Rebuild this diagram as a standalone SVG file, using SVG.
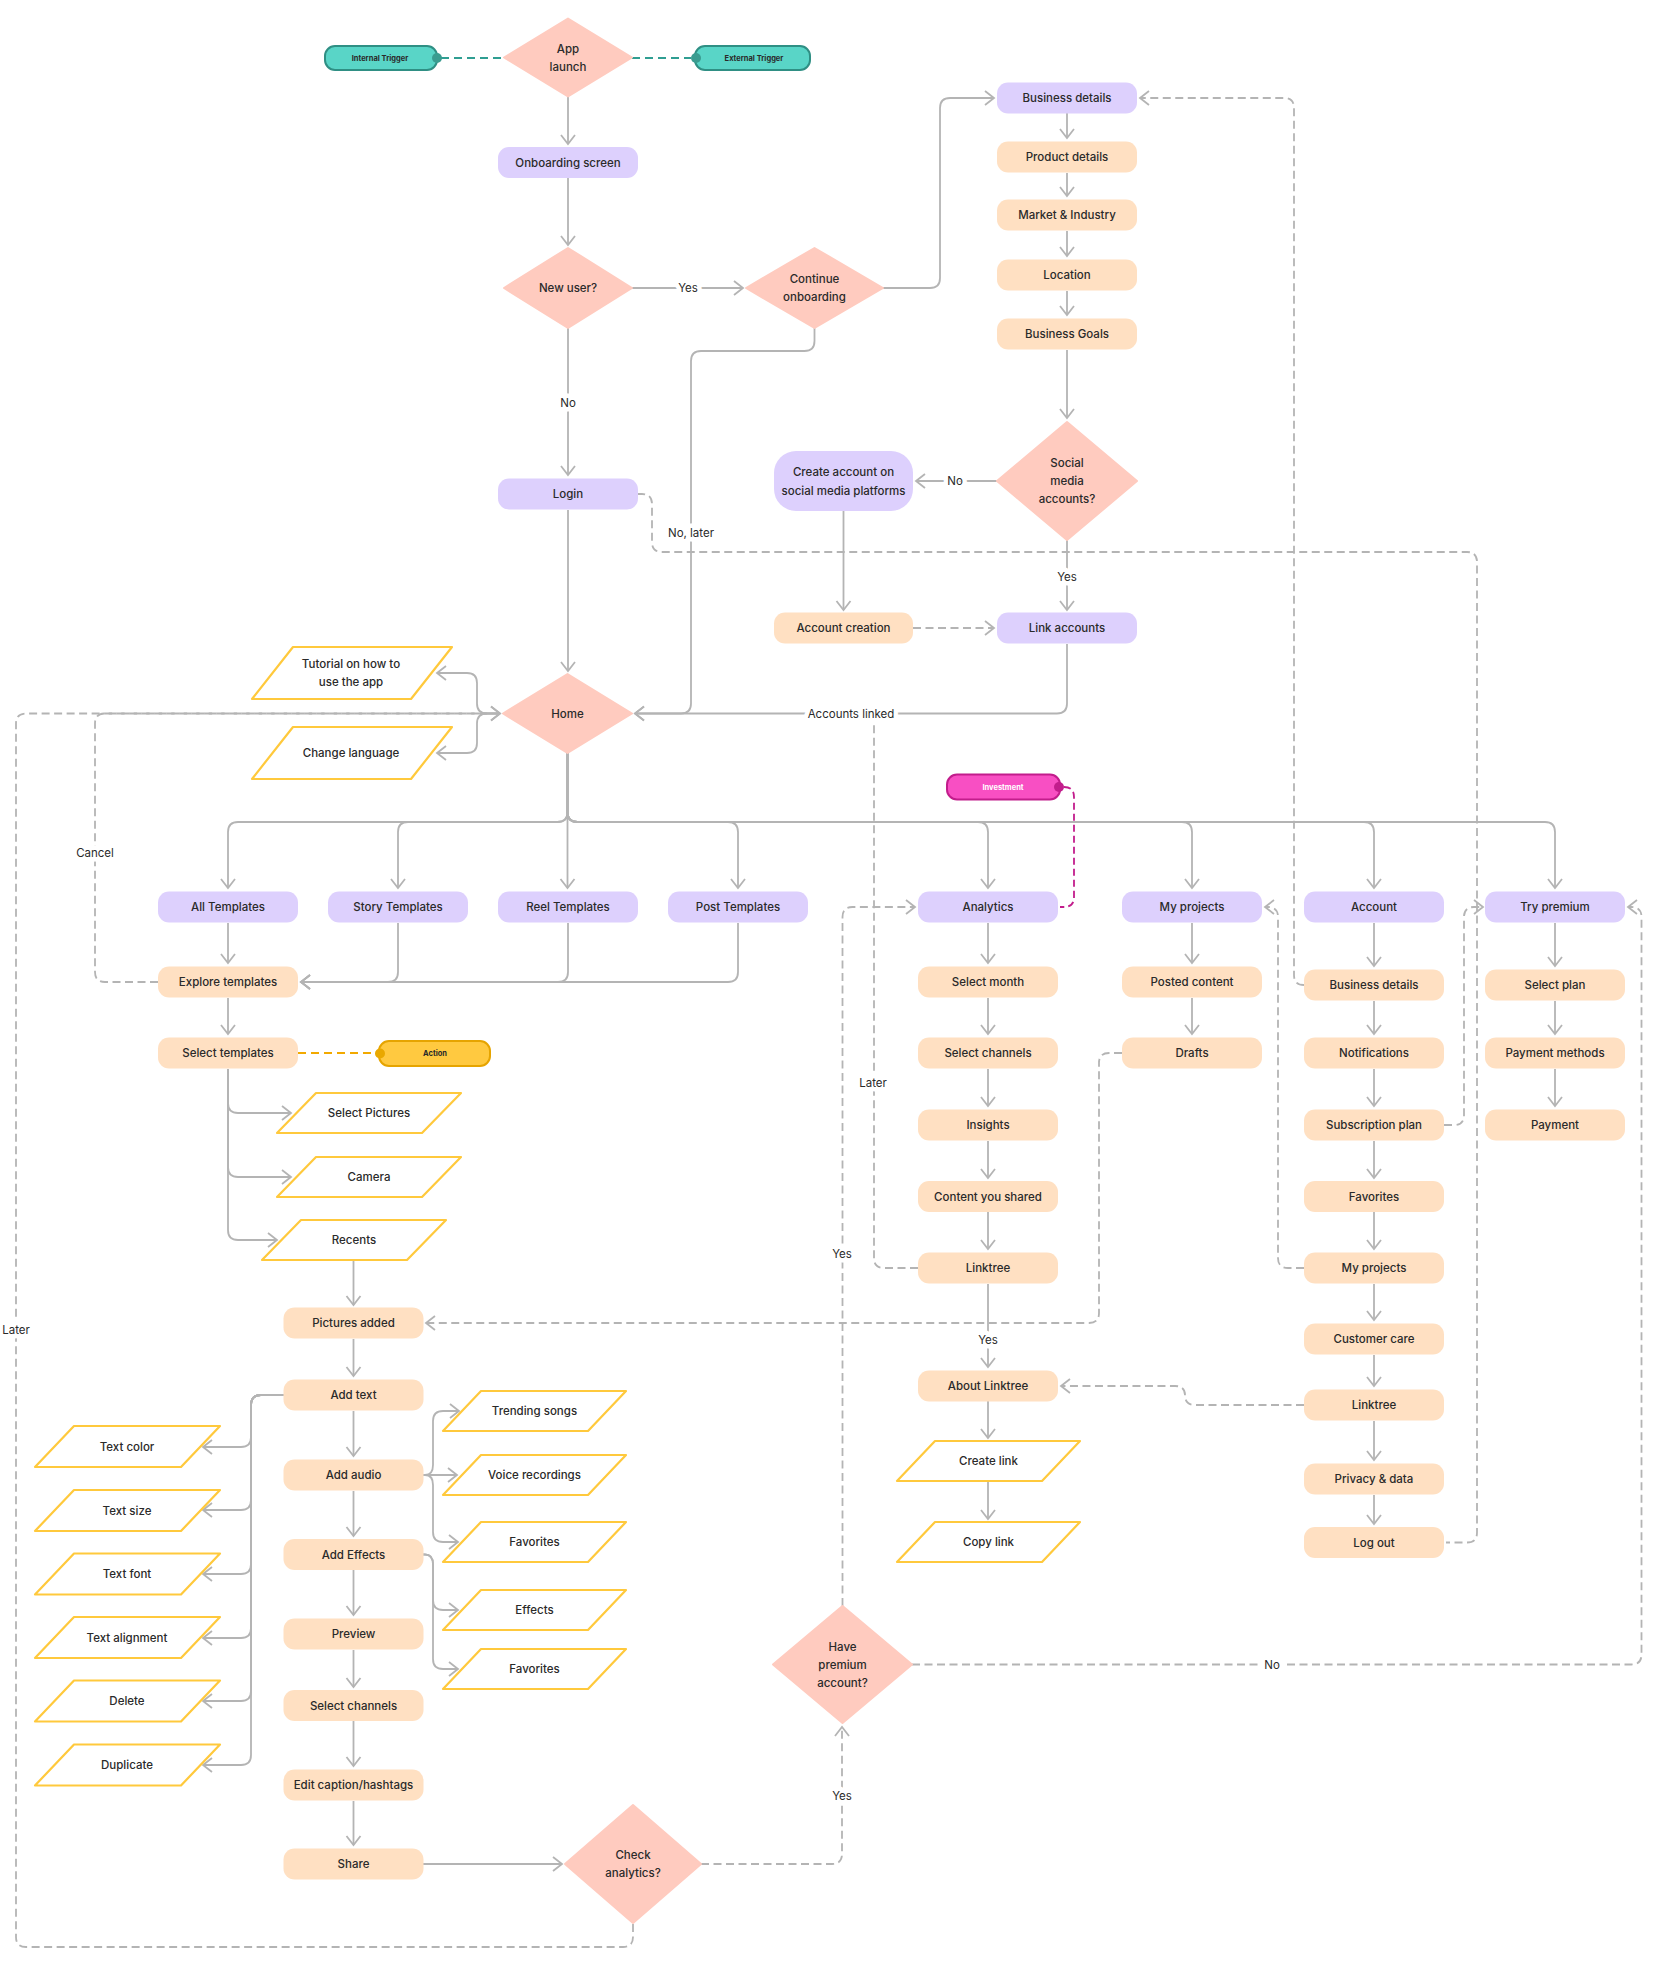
<svg xmlns="http://www.w3.org/2000/svg" width="1676" height="1980" viewBox="0 0 1676 1980">
<defs>
<style>
text{font-family:Inter,"Noto Sans","Liberation Sans",sans-serif;font-size:11.5px;font-weight:500;fill:#2a2a2a;text-anchor:middle;dominant-baseline:central}
.pu{fill:#DDD0FD}
.pe{fill:#FFE0C2}
.di{fill:#FFCBBF;stroke:#FFCBBF;stroke-width:2;stroke-linejoin:round}
.pg{fill:#fff;stroke:#FFC93C;stroke-width:2.2;stroke-linejoin:round}
.c{fill:none;stroke:#B4B4B4;stroke-width:1.8}
.d{stroke-dasharray:8 4.5}
.ar{marker-end:url(#a)}
.lb{font-weight:400;paint-order:stroke;stroke:#fff;stroke-width:9px;stroke-linejoin:round}
.tiny{font-size:7.5px;font-weight:700}
</style>
<marker id="a" viewBox="-11 -9 13 18" refX="0" refY="0" markerWidth="13" markerHeight="18" markerUnits="userSpaceOnUse" orient="auto">
<path d="M-9,-7 L0,0 L-9,7" fill="none" stroke="#B4B4B4" stroke-width="1.8"/>
</marker>
</defs>
<rect width="1676" height="1980" fill="#fff"/>

<g id="connectors">
<!-- colored dashed -->
<path d="M441,58 H503" fill="none" stroke="#2F9E92" stroke-width="2" stroke-dasharray="8 5"/>
<path d="M632,58 H691" fill="none" stroke="#2F9E92" stroke-width="2" stroke-dasharray="8 5"/>
<path d="M298,1053 H375" fill="none" stroke="#F2A900" stroke-width="2" stroke-dasharray="8 5"/>
<path d="M1064,787 Q1074,787 1074,797 V897 Q1074,907 1064,907 H1060" fill="none" stroke="#C21D8C" stroke-width="1.8" stroke-dasharray="7 4"/>

<!-- top flow -->
<path class="c ar" d="M568,97 V144"/>
<path class="c ar" d="M568,178 V245"/>
<path class="c ar" d="M632,288 H743"/>
<path class="c ar" d="M568,328 V475"/>
<path class="c ar" d="M883,288 H930 Q940,288 940,278 V108 Q940,98 950,98 H994"/>
<path class="c ar" d="M814.5,328 V341 Q814.5,351 804.5,351 H701 Q691,351 691,361 V703.5 Q691,713.5 681,713.5 H635"/>
<path class="c ar" d="M1067,644 V703.5 Q1067,713.5 1057,713.5 H635"/>
<path class="c ar" d="M568,510 V671"/>
<path class="c ar" d="M1067,113 V138"/>
<path class="c ar" d="M1067,173 V196"/>
<path class="c ar" d="M1067,231 V256"/>
<path class="c ar" d="M1067,291 V315"/>
<path class="c ar" d="M1067,350 V418"/>
<path class="c ar" d="M997,481 H916"/>
<path class="c ar" d="M1067,540 V610"/>
<path class="c ar" d="M843.5,511 V610"/>
<path class="c d ar" d="M913,628 H994"/>
<path class="c d" d="M637,494 H642 Q652,494 652,504 V542 Q652,552 662,552 H1467 Q1477,552 1477,562 V1532.5 Q1477,1542.5 1467,1542.5 H1446"/>
<path class="c d ar" d="M1304,985 Q1294,985 1294,975 V108 Q1294,98 1284,98 H1140"/>

<!-- home side -->
<path class="c ar" d="M500,713.5 H487 Q477,713.5 477,703.5 V683 Q477,673 467,673 H437"/>
<path class="c ar" d="M500,713.5 H487 Q477,713.5 477,723.5 V743 Q477,753 467,753 H437"/>
<path class="c d ar" d="M633,1924 V1937 Q633,1947 623,1947 H26 Q16,1947 16,1937 V723.5 Q16,713.5 26,713.5 H500"/>
<path class="c d ar" d="M158,982 H105 Q95,982 95,972 V723.5 Q95,713.5 105,713.5 H500"/>

<!-- home branches -->
<path class="c ar" d="M567.5,753 V888"/>
<path class="c ar" d="M567.5,753 V812 Q567.5,822 557.5,822 H238 Q228,822 228,832 V888"/>
<path class="c ar" d="M567.5,753 V812 Q567.5,822 557.5,822 H408 Q398,822 398,832 V888"/>
<path class="c ar" d="M567.5,753 V812 Q567.5,822 577.5,822 H728 Q738,822 738,832 V888"/>
<path class="c ar" d="M567.5,753 V812 Q567.5,822 577.5,822 H978 Q988,822 988,832 V888"/>
<path class="c ar" d="M567.5,753 V812 Q567.5,822 577.5,822 H1182 Q1192,822 1192,832 V888"/>
<path class="c ar" d="M567.5,753 V812 Q567.5,822 577.5,822 H1364 Q1374,822 1374,832 V888"/>
<path class="c ar" d="M567.5,753 V812 Q567.5,822 577.5,822 H1545 Q1555,822 1555,832 V888"/>

<!-- templates -->
<path class="c ar" d="M228,923 V963"/>
<path class="c ar" d="M398,923 V972 Q398,982 388,982 H301"/>
<path class="c ar" d="M568,923 V972 Q568,982 558,982 H301"/>
<path class="c ar" d="M738,923 V972 Q738,982 728,982 H301"/>
<path class="c ar" d="M228,998 V1034"/>
<path class="c ar" d="M228,1069 V1103 Q228,1113 238,1113 H291"/>
<path class="c ar" d="M228,1069 V1167 Q228,1177 238,1177 H291"/>
<path class="c ar" d="M228,1069 V1230 Q228,1240 238,1240 H277"/>
<path class="c ar" d="M353.5,1260 V1305"/>
<path class="c d ar" d="M1122,1053 H1109 Q1099,1053 1099,1063 V1313 Q1099,1323 1089,1323 H426"/>
<path class="c ar" d="M353.5,1339 V1376"/>
<path class="c ar" d="M353.5,1411 V1456"/>
<path class="c ar" d="M353.5,1491 V1536"/>
<path class="c ar" d="M353.5,1570 V1615"/>
<path class="c ar" d="M353.5,1650 V1687"/>
<path class="c ar" d="M353.5,1721 V1766"/>
<path class="c ar" d="M353.5,1801 V1845"/>
<path class="c ar" d="M283.5,1395 H261 Q251,1395 251,1405 V1437 Q251,1447 241,1447 H203"/>
<path class="c ar" d="M283.5,1395 H261 Q251,1395 251,1405 V1500 Q251,1510 241,1510 H203"/>
<path class="c ar" d="M283.5,1395 H261 Q251,1395 251,1405 V1564 Q251,1574 241,1574 H203"/>
<path class="c ar" d="M283.5,1395 H261 Q251,1395 251,1405 V1628 Q251,1638 241,1638 H203"/>
<path class="c ar" d="M283.5,1395 H261 Q251,1395 251,1405 V1691 Q251,1701 241,1701 H203"/>
<path class="c ar" d="M283.5,1395 H261 Q251,1395 251,1405 V1755 Q251,1765 241,1765 H203"/>
<path class="c ar" d="M423,1475 H425 Q433,1475 433,1465 V1421 Q433,1411 443,1411 H459"/>
<path class="c ar" d="M423,1475 H457"/>
<path class="c ar" d="M423,1475 H425 Q433,1475 433,1485 V1532 Q433,1542 443,1542 H458"/>
<path class="c ar" d="M423,1554.5 H425 Q433,1554.5 433,1564.5 V1600 Q433,1610 443,1610 H458"/>
<path class="c ar" d="M423,1554.5 H425 Q433,1554.5 433,1564.5 V1659 Q433,1669 443,1669 H458"/>
<path class="c ar" d="M423,1864 H562"/>
<path class="c d ar" d="M701,1864 H832 Q842,1864 842,1854 V1727"/>
<path class="c d ar" d="M842.5,1606 V917 Q842.5,907 852.5,907 H915"/>
<path class="c d ar" d="M912,1664.5 H1631.5 Q1641.5,1664.5 1641.5,1654.5 V917 Q1641.5,907 1631.5,907 H1628"/>
<path class="c d" d="M918,1268 H884 Q874,1268 874,1258 V722"/>

<!-- analytics column -->
<path class="c ar" d="M988,923 V963"/>
<path class="c ar" d="M988,998 V1034"/>
<path class="c ar" d="M988,1069 V1106"/>
<path class="c ar" d="M988,1141 V1178"/>
<path class="c ar" d="M988,1212 V1249"/>
<path class="c ar" d="M988,1284 V1367"/>
<path class="c ar" d="M988,1401 V1438"/>
<path class="c ar" d="M988,1481 V1519"/>
<!-- my projects -->
<path class="c ar" d="M1192,923 V963"/>
<path class="c ar" d="M1192,998 V1034"/>
<!-- account -->
<path class="c ar" d="M1374,923 V966"/>
<path class="c ar" d="M1374,1001 V1034"/>
<path class="c ar" d="M1374,1069 V1106"/>
<path class="c ar" d="M1374,1141 V1178"/>
<path class="c ar" d="M1374,1212 V1249"/>
<path class="c ar" d="M1374,1284 V1320"/>
<path class="c ar" d="M1374,1355 V1386"/>
<path class="c ar" d="M1374,1421 V1460"/>
<path class="c ar" d="M1374,1495 V1524"/>
<!-- try premium -->
<path class="c ar" d="M1555,923 V966"/>
<path class="c ar" d="M1555,1001 V1034"/>
<path class="c ar" d="M1555,1069 V1106"/>
<path class="c d ar" d="M1304,1268 H1288 Q1278,1268 1278,1258 V917 Q1278,907 1268,907 H1265"/>
<path class="c d ar" d="M1444,1125 H1454 Q1464,1125 1464,1115 V917 Q1464,907 1474,907 H1483"/>
<path class="c d ar" d="M1304,1405 H1195 Q1185,1405 1185,1395 Q1185,1386 1175,1386 H1061"/>

<!-- labels -->
<text class="lb" x="688" y="288">Yes</text>
<text class="lb" x="568" y="403">No</text>
<text class="lb" x="955" y="481">No</text>
<text class="lb" x="1067" y="577">Yes</text>
<text class="lb" x="691" y="533">No, later</text>
<text class="lb" x="851" y="713.5">Accounts linked</text>
<text class="lb" x="95" y="853">Cancel</text>
<text class="lb" x="16" y="1330">Later</text>
<text class="lb" x="873" y="1083">Later</text>
<text class="lb" x="842" y="1254">Yes</text>
<text class="lb" x="988" y="1340">Yes</text>
<text class="lb" x="1272" y="1664.5">No</text>
<text class="lb" x="842" y="1796">Yes</text>
</g>

<!-- triggers -->
<g id="internal-trigger"><rect x="325" y="46" width="112" height="24" rx="10" fill="#59D5C7" stroke="#2F8F84" stroke-width="2"/><circle cx="437" cy="58" r="5" fill="#3A9C90"/><text class="tiny" x="380" y="58">Internal Trigger</text></g>
<g id="external-trigger"><rect x="695" y="46" width="115" height="24" rx="10" fill="#59D5C7" stroke="#2F8F84" stroke-width="2"/><circle cx="696" cy="58" r="5" fill="#3A9C90"/><text class="tiny" x="754" y="58">External Trigger</text></g>
<g id="action"><rect x="379" y="1041" width="111" height="25" rx="10" fill="#FFC940" stroke="#E6A400" stroke-width="2"/><circle cx="380" cy="1053.5" r="5" fill="#E9A800"/><text class="tiny" x="435" y="1053.5">Action</text></g>
<g id="investment"><rect x="947" y="774.5" width="113" height="25" rx="10" fill="#F84FC3" stroke="#C21D8C" stroke-width="2"/><circle cx="1059" cy="787" r="5" fill="#C21D8C"/><text class="tiny" x="1003" y="787" style="fill:#fff">Investment</text></g>

<!-- diamonds -->
<g id="app-launch"><polygon class="di" points="568,18.5 632,57.5 568,96.5 504,57.5"/><text x="568" y="49">App</text><text x="568" y="67">launch</text></g>
<g id="new-user"><polygon class="di" points="568,248 632,288 568,328 504,288"/><text x="568" y="288">New user?</text></g>
<g id="continue-onboarding"><polygon class="di" points="814.5,248 883,288 814.5,328 746,288"/><text x="814.5" y="279">Continue</text><text x="814.5" y="297">onboarding</text></g>
<g id="social-media"><polygon class="di" points="1067,422 1137,481 1067,540 997,481"/><text x="1067" y="463">Social</text><text x="1067" y="481">media</text><text x="1067" y="499">accounts?</text></g>
<g id="home"><polygon class="di" points="567.5,674 632,713.5 567.5,753 503,713.5"/><text x="567.5" y="713.5">Home</text></g>
<g id="check-analytics"><polygon class="di" points="633,1805 701,1864 633,1923 565,1864"/><text x="633" y="1855">Check</text><text x="633" y="1873">analytics?</text></g>
<g id="have-premium"><polygon class="di" points="842.5,1606 912,1664.5 842.5,1723 773,1664.5"/><text x="842.5" y="1647">Have</text><text x="842.5" y="1665">premium</text><text x="842.5" y="1683">account?</text></g>

<!-- onboarding nodes -->
<g id="onboarding-screen"><rect class="pu" x="498" y="147" width="140" height="31" rx="11"/><text x="568" y="162.5">Onboarding screen</text></g>
<g id="login"><rect class="pu" x="498" y="478.5" width="140" height="31" rx="11"/><text x="568" y="494">Login</text></g>
<g id="business-details"><rect class="pu" x="997" y="82.5" width="140" height="31" rx="11"/><text x="1067" y="98">Business details</text></g>
<g id="product-details"><rect class="pe" x="997" y="141.5" width="140" height="31" rx="11"/><text x="1067" y="157">Product details</text></g>
<g id="market-industry"><rect class="pe" x="997" y="199.5" width="140" height="31" rx="11"/><text x="1067" y="215">Market &amp; Industry</text></g>
<g id="location"><rect class="pe" x="997" y="259.5" width="140" height="31" rx="11"/><text x="1067" y="275">Location</text></g>
<g id="business-goals"><rect class="pe" x="997" y="318.5" width="140" height="31" rx="11"/><text x="1067" y="334">Business Goals</text></g>
<g id="create-account"><rect class="pu" x="774" y="451" width="139" height="60" rx="22"/><text x="843.5" y="472">Create account on</text><text x="843.5" y="490.5">social media platforms</text></g>
<g id="account-creation"><rect class="pe" x="774" y="612.5" width="139" height="31" rx="11"/><text x="843.5" y="628">Account creation</text></g>
<g id="link-accounts"><rect class="pu" x="997" y="612.5" width="140" height="31" rx="11"/><text x="1067" y="628">Link accounts</text></g>

<g id="tutorial"><polygon class="pg" points="293,647 452,647 411,699 252,699"/><text x="351" y="664">Tutorial on how to</text><text x="351" y="682">use the app</text></g>
<g id="change-language"><polygon class="pg" points="293,727 452,727 411,779 252,779"/><text x="351" y="753">Change language</text></g>

<!-- template row -->
<g id="all-templates"><rect class="pu" x="158" y="891.5" width="140" height="31" rx="11"/><text x="228" y="907">All Templates</text></g>
<g id="story-templates"><rect class="pu" x="328" y="891.5" width="140" height="31" rx="11"/><text x="398" y="907">Story Templates</text></g>
<g id="reel-templates"><rect class="pu" x="498" y="891.5" width="140" height="31" rx="11"/><text x="568" y="907">Reel Templates</text></g>
<g id="post-templates"><rect class="pu" x="668" y="891.5" width="140" height="31" rx="11"/><text x="738" y="907">Post Templates</text></g>
<g id="analytics"><rect class="pu" x="918" y="891.5" width="140" height="31" rx="11"/><text x="988" y="907">Analytics</text></g>
<g id="my-projects"><rect class="pu" x="1122" y="891.5" width="140" height="31" rx="11"/><text x="1192" y="907">My projects</text></g>
<g id="account"><rect class="pu" x="1304" y="891.5" width="140" height="31" rx="11"/><text x="1374" y="907">Account</text></g>
<g id="try-premium"><rect class="pu" x="1485" y="891.5" width="140" height="31" rx="11"/><text x="1555" y="907">Try premium</text></g>

<!-- templates column -->
<g id="explore-templates"><rect class="pe" x="158" y="966.5" width="140" height="31" rx="11"/><text x="228" y="982">Explore templates</text></g>
<g id="select-templates"><rect class="pe" x="158" y="1037.5" width="140" height="31" rx="11"/><text x="228" y="1053">Select templates</text></g>
<g id="select-pictures"><polygon class="pg" points="316,1093 461,1093 422,1133 277,1133"/><text x="369" y="1113">Select Pictures</text></g>
<g id="camera"><polygon class="pg" points="316,1157 461,1157 422,1197 277,1197"/><text x="369" y="1177">Camera</text></g>
<g id="recents"><polygon class="pg" points="301,1220 446,1220 407,1260 262,1260"/><text x="354" y="1240">Recents</text></g>
<g id="pictures-added"><rect class="pe" x="283.5" y="1307.5" width="140" height="31" rx="11"/><text x="353.5" y="1323">Pictures added</text></g>
<g id="add-text"><rect class="pe" x="283.5" y="1379.5" width="140" height="31" rx="11"/><text x="353.5" y="1395">Add text</text></g>
<g id="add-audio"><rect class="pe" x="283.5" y="1459.5" width="140" height="31" rx="11"/><text x="353.5" y="1475">Add audio</text></g>
<g id="add-effects"><rect class="pe" x="283.5" y="1539" width="140" height="31" rx="11"/><text x="353.5" y="1554.5">Add Effects</text></g>
<g id="preview"><rect class="pe" x="283.5" y="1618.5" width="140" height="31" rx="11"/><text x="353.5" y="1634">Preview</text></g>
<g id="select-channels-post"><rect class="pe" x="283.5" y="1690" width="140" height="31" rx="11"/><text x="353.5" y="1705.5">Select channels</text></g>
<g id="edit-caption"><rect class="pe" x="283.5" y="1769.5" width="140" height="31" rx="11"/><text x="353.5" y="1785">Edit caption/hashtags</text></g>
<g id="share"><rect class="pe" x="283.5" y="1848.5" width="140" height="31" rx="11"/><text x="353.5" y="1864">Share</text></g>

<g id="text-color"><polygon class="pg" points="74,1426 220,1426 181,1467 35,1467"/><text x="127" y="1447">Text color</text></g>
<g id="text-size"><polygon class="pg" points="74,1490 220,1490 181,1531 35,1531"/><text x="127" y="1510.5">Text size</text></g>
<g id="text-font"><polygon class="pg" points="74,1553.5 220,1553.5 181,1594.5 35,1594.5"/><text x="127" y="1574">Text font</text></g>
<g id="text-alignment"><polygon class="pg" points="74,1617 220,1617 181,1658 35,1658"/><text x="127" y="1637.5">Text alignment</text></g>
<g id="delete"><polygon class="pg" points="74,1680.5 220,1680.5 181,1721.5 35,1721.5"/><text x="127" y="1701">Delete</text></g>
<g id="duplicate"><polygon class="pg" points="74,1744.5 220,1744.5 181,1785.5 35,1785.5"/><text x="127" y="1765">Duplicate</text></g>

<g id="trending-songs"><polygon class="pg" points="481,1391 626,1391 588,1431 443,1431"/><text x="534.5" y="1411">Trending songs</text></g>
<g id="voice-recordings"><polygon class="pg" points="481,1455 626,1455 588,1495 443,1495"/><text x="534.5" y="1475">Voice recordings</text></g>
<g id="favorites-audio"><polygon class="pg" points="481,1522 626,1522 588,1562 443,1562"/><text x="534.5" y="1542">Favorites</text></g>
<g id="effects"><polygon class="pg" points="481,1590 626,1590 588,1630 443,1630"/><text x="534.5" y="1610">Effects</text></g>
<g id="favorites-effects"><polygon class="pg" points="481,1649 626,1649 588,1689 443,1689"/><text x="534.5" y="1669">Favorites</text></g>

<!-- analytics column -->
<g id="select-month"><rect class="pe" x="918" y="966.5" width="140" height="31" rx="11"/><text x="988" y="982">Select month</text></g>
<g id="select-channels"><rect class="pe" x="918" y="1037.5" width="140" height="31" rx="11"/><text x="988" y="1053">Select channels</text></g>
<g id="insights"><rect class="pe" x="918" y="1109.5" width="140" height="31" rx="11"/><text x="988" y="1125">Insights</text></g>
<g id="content-shared"><rect class="pe" x="918" y="1181" width="140" height="31" rx="11"/><text x="988" y="1196.5">Content you shared</text></g>
<g id="linktree-analytics"><rect class="pe" x="918" y="1252.5" width="140" height="31" rx="11"/><text x="988" y="1268">Linktree</text></g>
<g id="about-linktree"><rect class="pe" x="918" y="1370.5" width="140" height="31" rx="11"/><text x="988" y="1386">About Linktree</text></g>
<g id="create-link"><polygon class="pg" points="935,1441 1080,1441 1042,1481 897,1481"/><text x="988.5" y="1461">Create link</text></g>
<g id="copy-link"><polygon class="pg" points="935,1522 1080,1522 1042,1562 897,1562"/><text x="988.5" y="1542">Copy link</text></g>

<!-- my projects column -->
<g id="posted-content"><rect class="pe" x="1122" y="966.5" width="140" height="31" rx="11"/><text x="1192" y="982">Posted content</text></g>
<g id="drafts"><rect class="pe" x="1122" y="1037.5" width="140" height="31" rx="11"/><text x="1192" y="1053">Drafts</text></g>

<!-- account column -->
<g id="acc-business-details"><rect class="pe" x="1304" y="969.5" width="140" height="31" rx="11"/><text x="1374" y="985">Business details</text></g>
<g id="notifications"><rect class="pe" x="1304" y="1037.5" width="140" height="31" rx="11"/><text x="1374" y="1053">Notifications</text></g>
<g id="subscription-plan"><rect class="pe" x="1304" y="1109.5" width="140" height="31" rx="11"/><text x="1374" y="1125">Subscription plan</text></g>
<g id="favorites-account"><rect class="pe" x="1304" y="1181" width="140" height="31" rx="11"/><text x="1374" y="1196.5">Favorites</text></g>
<g id="acc-my-projects"><rect class="pe" x="1304" y="1252.5" width="140" height="31" rx="11"/><text x="1374" y="1268">My projects</text></g>
<g id="customer-care"><rect class="pe" x="1304" y="1323.5" width="140" height="31" rx="11"/><text x="1374" y="1339">Customer care</text></g>
<g id="acc-linktree"><rect class="pe" x="1304" y="1389.5" width="140" height="31" rx="11"/><text x="1374" y="1405">Linktree</text></g>
<g id="privacy-data"><rect class="pe" x="1304" y="1463.5" width="140" height="31" rx="11"/><text x="1374" y="1479">Privacy &amp; data</text></g>
<g id="log-out"><rect class="pe" x="1304" y="1527" width="140" height="31" rx="11"/><text x="1374" y="1542.5">Log out</text></g>

<!-- try premium column -->
<g id="select-plan"><rect class="pe" x="1485" y="969.5" width="140" height="31" rx="11"/><text x="1555" y="985">Select plan</text></g>
<g id="payment-methods"><rect class="pe" x="1485" y="1037.5" width="140" height="31" rx="11"/><text x="1555" y="1053">Payment methods</text></g>
<g id="payment"><rect class="pe" x="1485" y="1109.5" width="140" height="31" rx="11"/><text x="1555" y="1125">Payment</text></g>
</svg>
